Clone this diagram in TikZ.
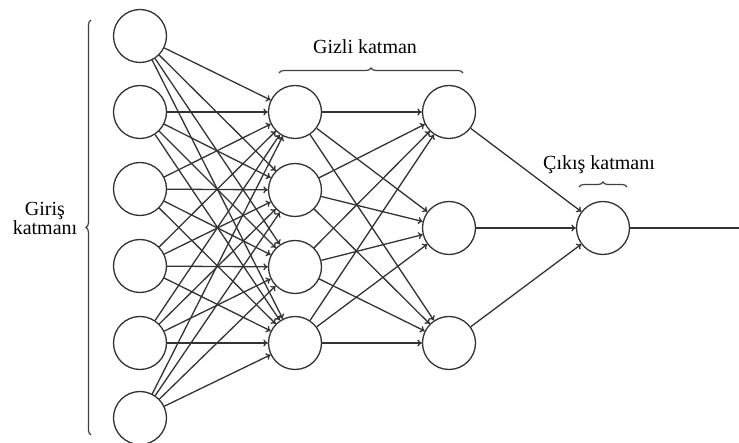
\documentclass[tikz,border=0pt]{standalone}
\usepackage{fontspec}
\setmainfont{Liberation Serif}
\usetikzlibrary{arrows.meta,decorations.pathreplacing}
\tikzset{
  neuron/.style={circle,draw=black!80,line width=1.3pt,minimum size=53pt,inner sep=0pt,fill=white},
  conn/.style={draw=black!80,line width=1.3pt,-{To[length=4.5pt,width=7pt]}},
  plain/.style={draw=black!80,line width=1.3pt},
  brc/.style={draw=black!75,line width=1.2pt,decorate,decoration={brace,amplitude=5pt}},
  lbl/.style={font=\fontsize{20}{19}\selectfont,text=black,align=center,inner sep=0pt}
}
\begin{document}
\begin{tikzpicture}[x=1pt,y=-1pt]
\useasboundingbox (0,0) rectangle (739,443);
% input layer
\foreach \i/\y in {1/36,2/112,3/189,4/266,5/343,6/418}
  \node[neuron] (i\i) at (140,\y) {};
% hidden 1
\foreach \i/\y in {1/112,2/190,3/267,4/343}
  \node[neuron] (h\i) at (295,\y) {};
% hidden 2
\foreach \i/\y in {1/112,2/228,3/343}
  \node[neuron] (g\i) at (449,\y) {};
% output
\node[neuron] (o) at (603,228) {};
\coordinate (end) at (739,228);
% connections
\foreach \a in {1,...,6}
  \foreach \b in {1,...,4}
    \draw[conn] (i\a) -- (h\b);
\foreach \a in {1,...,4}
  \foreach \b in {1,2,3}
    \draw[conn] (h\a) -- (g\b);
\foreach \a in {1,2,3}
  \draw[conn] (g\a) -- (o);
\draw[plain] (o) -- (end);
% braces
\coordinate (lb1) at (91,435);
\coordinate (lb2) at (91,20);
\draw[brc] (lb1) -- (lb2);
\coordinate (gb1) at (279,73);
\coordinate (gb2) at (463,73);
\draw[brc] (gb1) -- (gb2);
\coordinate (cb1) at (579,187);
\coordinate (cb2) at (627,187);
\draw[brc] (cb1) -- (cb2);
% labels
\node[lbl] (lin) at (45,218) {Giriş\\katmanı};
\node[lbl] (lhid) at (365,47) {Gizli katman};
\node[lbl] (lout) at (599,165) {Çıkış katmanı};
\end{tikzpicture}
\end{document}
